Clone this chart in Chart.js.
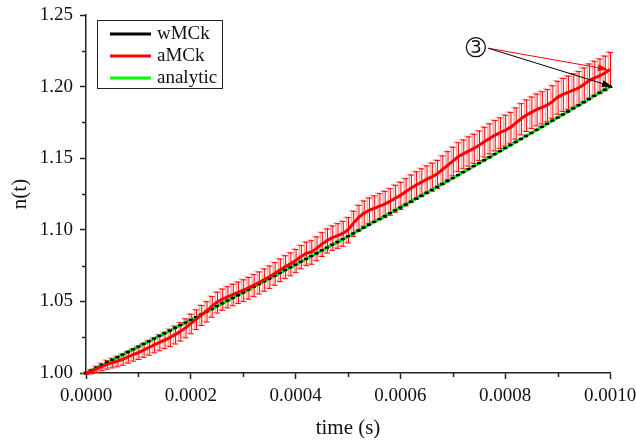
<!DOCTYPE html>
<html>
<head>
<meta charset="utf-8">
<script src="https://cdn.jsdelivr.net/npm/chart.js@4.4.0/dist/chart.umd.min.js"></script>
<style>
  html, body { margin: 0; padding: 0; background: #fff; }
  #wrap { width: 636px; height: 441px; }
</style>
</head>
<body>
<div id="wrap"><canvas id="chart" width="636" height="441"></canvas></div>
<script>
// ── Data ─────────────────────────────────────────────────────────────────────
// sample times in microseconds
const timeUs = [
  0, 10, 20, 30, 40, 50, 60, 70, 80, 90, 100, 110, 120, 130, 140, 150, 160, 170, 180, 190,
  200, 210, 220, 230, 240, 250, 260, 270, 280, 290, 300, 310, 320, 330, 340, 350, 360, 370, 380, 390,
  400, 410, 420, 430, 440, 450, 460, 470, 480, 490, 500, 510, 520, 530, 540, 550, 560, 570, 580, 590,
  600, 610, 620, 630, 640, 650, 660, 670, 680, 690, 700, 710, 720, 730, 740, 750, 760, 770, 780, 790,
  800, 810, 820, 830, 840, 850, 860, 870, 880, 890, 900, 910, 920, 930, 940, 950, 960, 970, 980, 990, 1000,
];

const analytic = [
  1.0000, 1.0018, 1.0037, 1.0055, 1.0073, 1.0092, 1.0110, 1.0128, 1.0147, 1.0165,
  1.0184, 1.0203, 1.0221, 1.0240, 1.0259, 1.0277, 1.0296, 1.0315, 1.0334, 1.0352,
  1.0371, 1.0390, 1.0409, 1.0428, 1.0447, 1.0467, 1.0486, 1.0505, 1.0524, 1.0543,
  1.0562, 1.0582, 1.0601, 1.0621, 1.0640, 1.0660, 1.0679, 1.0699, 1.0718, 1.0738,
  1.0757, 1.0777, 1.0797, 1.0816, 1.0836, 1.0856, 1.0876, 1.0896, 1.0915, 1.0935,
  1.0954, 1.0974, 1.0995, 1.1015, 1.1035, 1.1055, 1.1075, 1.1095, 1.1116, 1.1136,
  1.1156, 1.1177, 1.1197, 1.1218, 1.1238, 1.1259, 1.1279, 1.1300, 1.1320, 1.1341,
  1.1361, 1.1382, 1.1403, 1.1424, 1.1445, 1.1466, 1.1486, 1.1507, 1.1528, 1.1549,
  1.1570, 1.1591, 1.1613, 1.1634, 1.1655, 1.1676, 1.1698, 1.1719, 1.1740, 1.1762,
  1.1783, 1.1805, 1.1826, 1.1848, 1.1870, 1.1891, 1.1913, 1.1935, 1.1957, 1.1978, 1.2000,
];

const wmck = [
  1.0000, 1.0018, 1.0037, 1.0055, 1.0073, 1.0092, 1.0110, 1.0128, 1.0147, 1.0165,
  1.0184, 1.0203, 1.0221, 1.0240, 1.0259, 1.0277, 1.0296, 1.0315, 1.0334, 1.0352,
  1.0371, 1.0390, 1.0409, 1.0428, 1.0447, 1.0467, 1.0486, 1.0505, 1.0524, 1.0543,
  1.0562, 1.0582, 1.0601, 1.0621, 1.0640, 1.0660, 1.0679, 1.0699, 1.0718, 1.0738,
  1.0757, 1.0777, 1.0797, 1.0816, 1.0836, 1.0856, 1.0876, 1.0896, 1.0915, 1.0935,
  1.0954, 1.0974, 1.0995, 1.1015, 1.1035, 1.1055, 1.1075, 1.1095, 1.1116, 1.1136,
  1.1156, 1.1177, 1.1197, 1.1218, 1.1238, 1.1259, 1.1279, 1.1300, 1.1320, 1.1341,
  1.1361, 1.1382, 1.1403, 1.1424, 1.1445, 1.1466, 1.1486, 1.1507, 1.1528, 1.1549,
  1.1570, 1.1591, 1.1613, 1.1634, 1.1655, 1.1676, 1.1698, 1.1719, 1.1740, 1.1762,
  1.1783, 1.1805, 1.1826, 1.1848, 1.1870, 1.1891, 1.1913, 1.1935, 1.1957, 1.1978, 1.2000,
];
const wmckErr = 0.0003;

const amck = [
  1.0000, 1.0012, 1.0028, 1.0044, 1.0060, 1.0072, 1.0083, 1.0096, 1.0112, 1.0128,
  1.0143, 1.0160, 1.0178, 1.0196, 1.0213, 1.0230, 1.0248, 1.0268, 1.0290, 1.0315,
  1.0345, 1.0375, 1.0405, 1.0430, 1.0465, 1.0495, 1.0515, 1.0532, 1.0548, 1.0563,
  1.0578, 1.0595, 1.0613, 1.0632, 1.0652, 1.0672, 1.0695, 1.0720, 1.0742, 1.0762,
  1.0785, 1.0812, 1.0835, 1.0845, 1.0870, 1.0900, 1.0925, 1.0945, 1.0960, 1.0975,
  1.1000, 1.1045, 1.1085, 1.1115, 1.1135, 1.1150, 1.1165, 1.1180, 1.1198, 1.1220,
  1.1240, 1.1265, 1.1290, 1.1313, 1.1332, 1.1352, 1.1370, 1.1390, 1.1420, 1.1450,
  1.1480, 1.1510, 1.1530, 1.1550, 1.1568, 1.1590, 1.1615, 1.1638, 1.1660, 1.1678,
  1.1695, 1.1715, 1.1745, 1.1775, 1.1800, 1.1820, 1.1840, 1.1855, 1.1870, 1.1895,
  1.1925, 1.1945, 1.1960, 1.1975, 1.1990, 1.2015, 1.2042, 1.2060, 1.2075, 1.2095, 1.2120,
];

const amckErr = [
  0.0005, 0.0015, 0.0020, 0.0025, 0.0030, 0.0033, 0.0036, 0.0038, 0.0040, 0.0042,
  0.0045, 0.0047, 0.0050, 0.0052, 0.0055, 0.0057, 0.0060, 0.0062, 0.0064, 0.0066,
  0.0068, 0.0069, 0.0070, 0.0071, 0.0072, 0.0073, 0.0074, 0.0074, 0.0075, 0.0075,
  0.0076, 0.0076, 0.0077, 0.0077, 0.0078, 0.0078, 0.0079, 0.0079, 0.0080, 0.0080,
  0.0081, 0.0081, 0.0082, 0.0082, 0.0083, 0.0083, 0.0084, 0.0085, 0.0086, 0.0087,
  0.0088, 0.0088, 0.0089, 0.0089, 0.0090, 0.0090, 0.0091, 0.0092, 0.0093, 0.0094,
  0.0095, 0.0095, 0.0096, 0.0096, 0.0097, 0.0097, 0.0098, 0.0098, 0.0099, 0.0099,
  0.0100, 0.0101, 0.0101, 0.0102, 0.0102, 0.0103, 0.0104, 0.0105, 0.0106, 0.0107,
  0.0108, 0.0108, 0.0109, 0.0109, 0.0110, 0.0110, 0.0111, 0.0112, 0.0113, 0.0114,
  0.0115, 0.0115, 0.0116, 0.0117, 0.0118, 0.0118, 0.0119, 0.0120, 0.0121, 0.0121, 0.0122,
];

const xMinorTicks = [0.0001, 0.0003, 0.0005, 0.0007, 0.0009];
const yMinorTicks = [1.025, 1.075, 1.125, 1.175, 1.225];

// position of the circled "3" label, in data units
const noteAt = { t: 0.000744, n: 1.2275, text: "3" };

// ── Style helpers ────────────────────────────────────────────────────────────
const SERIF = '"Liberation Serif", "Times New Roman", serif';
const AXIS = "#222";
const TEXT = "#111";

function toPoints(arr) {
  return timeUs.map((t, i) => ({ x: t / 1e6, y: arr[i] }));
}

// ── Plugins ──────────────────────────────────────────────────────────────────
const errorBars = {
  id: "errorBars",
  beforeDatasetsDraw(chart) {
    const { ctx, scales: { x, y } } = chart;
    ctx.save();
    timeUs.forEach((t, i) => {
      const px = x.getPixelForValue(t / 1e6);
      const top = y.getPixelForValue(amck[i] + amckErr[i]);
      const bot = y.getPixelForValue(amck[i] - amckErr[i]);
      // pale doubled stroke like the original rendering
      ctx.strokeStyle = "rgba(255,110,110,0.6)";
      ctx.lineWidth = 1.5;
      ctx.beginPath();
      ctx.moveTo(px - 1.5, top); ctx.lineTo(px - 1.5, bot);
      ctx.moveTo(px - 4.5, top); ctx.lineTo(px + 0.5, top);
      ctx.moveTo(px - 4.5, bot); ctx.lineTo(px + 0.5, bot);
      ctx.stroke();
      ctx.strokeStyle = "#ff0000";
      ctx.lineWidth = 1;
      ctx.beginPath();
      ctx.moveTo(px + 0.5, top); ctx.lineTo(px + 0.5, bot);
      ctx.moveTo(px - 2.5, top + 0.5); ctx.lineTo(px + 3, top + 0.5);
      ctx.moveTo(px - 2.5, bot + 0.5); ctx.lineTo(px + 3, bot + 0.5);
      ctx.stroke();
    });
    ctx.restore();
  },
  afterDatasetDraw(chart, args) {
    if (args.index !== 2) return; // black wMCk caps go over the green line
    const { ctx, scales: { x, y } } = chart;
    ctx.save();
    ctx.strokeStyle = "#000";
    ctx.lineWidth = 1.5;
    timeUs.forEach((t, i) => {
      const px = x.getPixelForValue(t / 1e6);
      const top = y.getPixelForValue(wmck[i] + wmckErr);
      const bot = y.getPixelForValue(wmck[i] - wmckErr);
      ctx.beginPath();
      ctx.moveTo(px - 2, top); ctx.lineTo(px + 2, top);
      ctx.moveTo(px - 2, bot); ctx.lineTo(px + 2, bot);
      ctx.stroke();
    });
    ctx.restore();
  },
};

const minorTicks = {
  id: "minorTicks",
  afterDraw(chart) {
    const { ctx, chartArea, scales: { x, y } } = chart;
    ctx.save();
    ctx.strokeStyle = AXIS;
    ctx.lineWidth = 1.5;
    ctx.beginPath();
    xMinorTicks.forEach(v => {
      const px = Math.round(x.getPixelForValue(v)) + 0.5;
      ctx.moveTo(px, chartArea.bottom);
      ctx.lineTo(px, chartArea.bottom + 4);
    });
    yMinorTicks.forEach(v => {
      const py = Math.round(y.getPixelForValue(v)) + 0.5;
      ctx.moveTo(chartArea.left, py);
      ctx.lineTo(chartArea.left - 4, py);
    });
    ctx.stroke();
    ctx.restore();
  },
};

const boxLegend = {
  id: "boxLegend",
  afterDraw(chart) {
    const { ctx, chartArea } = chart;
    const x0 = chartArea.left + 11, y0 = chartArea.top + 5;
    const w = 125, h = 68, row = 22;
    ctx.save();
    ctx.fillStyle = "#fff";
    ctx.fillRect(x0, y0, w, h);
    ctx.strokeStyle = "#222";
    ctx.lineWidth = 1;
    ctx.strokeRect(x0 + 0.5, y0 + 0.5, w, h);
    ctx.font = `19px ${SERIF}`;
    ctx.textBaseline = "middle";
    chart.data.datasets.forEach((ds, i) => {
      const cy = y0 + 14 + i * row;
      ctx.strokeStyle = ds.borderColor;
      ctx.lineWidth = 3;
      ctx.beginPath();
      ctx.moveTo(x0 + 13, cy);
      ctx.lineTo(x0 + 54, cy);
      ctx.stroke();
      ctx.fillStyle = TEXT;
      ctx.fillText(ds.label, x0 + 60, cy);
    });
    ctx.restore();
  },
};

const noteArrows = {
  id: "noteArrows",
  afterDraw(chart) {
    const { ctx, scales: { x, y } } = chart;
    const cx = x.getPixelForValue(noteAt.t);
    const cy = y.getPixelForValue(noteAt.n);
    const r = 9.5;
    ctx.save();
    ctx.strokeStyle = "#111";
    ctx.lineWidth = 1.3;
    ctx.beginPath();
    ctx.arc(cx, cy, r, 0, Math.PI * 2);
    ctx.stroke();
    ctx.fillStyle = "#111";
    ctx.font = `18px "DejaVu Sans", sans-serif`;
    ctx.textAlign = "center";
    ctx.textBaseline = "middle";
    ctx.fillText(noteAt.text, cx, cy + 1);

    const last = timeUs.length - 1;
    const tEnd = x.getPixelForValue(timeUs[last] / 1e6);
    const arrows = [
      { color: "#ff0000", tip: [tEnd - 2, y.getPixelForValue(amck[last])] },
      { color: "#000000", tip: [tEnd + 2, y.getPixelForValue(wmck[last])] },
    ];
    arrows.forEach(a => {
      const sx = cx + r + 3, sy = cy + 1;
      const [tx, ty] = a.tip;
      const ang = Math.atan2(ty - sy, tx - sx);
      ctx.strokeStyle = a.color;
      ctx.fillStyle = a.color;
      ctx.lineWidth = 1;
      ctx.beginPath();
      ctx.moveTo(sx, sy);
      ctx.lineTo(tx - 6 * Math.cos(ang), ty - 6 * Math.sin(ang));
      ctx.stroke();
      ctx.beginPath();
      ctx.moveTo(tx, ty);
      ctx.lineTo(tx - 10 * Math.cos(ang) + 3.5 * Math.sin(ang), ty - 10 * Math.sin(ang) - 3.5 * Math.cos(ang));
      ctx.lineTo(tx - 10 * Math.cos(ang) - 3.5 * Math.sin(ang), ty - 10 * Math.sin(ang) + 3.5 * Math.cos(ang));
      ctx.closePath();
      ctx.fill();
    });
    ctx.restore();
  },
};

// ── Chart ────────────────────────────────────────────────────────────────────
new Chart(document.getElementById("chart"), {
  type: "line",
  data: {
    datasets: [
      { label: "wMCk", data: toPoints(wmck), borderColor: "#000000", borderWidth: 2.5, order: 2 },
      { label: "aMCk", data: toPoints(amck), borderColor: "#ff0000", borderWidth: 3, order: 0 },
      { label: "analytic", data: toPoints(analytic), borderColor: "#00ff00", borderWidth: 2.5, order: 1 },
    ],
  },
  options: {
    responsive: false,
    animation: false,
    events: [],
    layout: { padding: { top: 15, right: 26, left: 0, bottom: 0 } },
    datasets: { line: { pointRadius: 0, tension: 0, clip: false } },
    plugins: { legend: { display: false }, tooltip: { enabled: false } },
    scales: {
      x: {
        type: "linear",
        min: 0,
        max: 0.001,
        ticks: {
          stepSize: 0.0002,
          autoSkip: false,
          maxRotation: 0,
          padding: 6,
          color: TEXT,
          font: { family: SERIF, size: 19 },
          callback: v => v.toFixed(4),
        },
        grid: { drawOnChartArea: false, tickLength: 6, tickColor: AXIS, tickWidth: 1.5 },
        border: { color: AXIS, width: 1.5 },
        title: { display: true, text: "time (s)", color: TEXT, font: { family: SERIF, size: 21 }, padding: { top: 0, bottom: 0 } },
        afterFit(scale) {
          scale.height = 68;
          scale.paddingLeft = 0;
          scale.paddingRight = 0;
        },
      },
      y: {
        min: 1,
        max: 1.25,
        ticks: {
          stepSize: 0.05,
          padding: 7,
          color: TEXT,
          font: { family: SERIF, size: 19 },
          callback: v => v.toFixed(2),
        },
        grid: { drawOnChartArea: false, tickLength: 6, tickColor: AXIS, tickWidth: 1.5 },
        border: { color: AXIS, width: 1.5 },
        title: { display: true, text: "n(t)", color: TEXT, font: { family: SERIF, size: 21 }, padding: { top: 8, bottom: 0 } },
        afterFit(scale) {
          scale.width = 86;
          scale.paddingTop = 0;
          scale.paddingBottom = 0;
        },
      },
    },
  },
  plugins: [errorBars, minorTicks, boxLegend, noteArrows],
});
</script>
</body>
</html>
